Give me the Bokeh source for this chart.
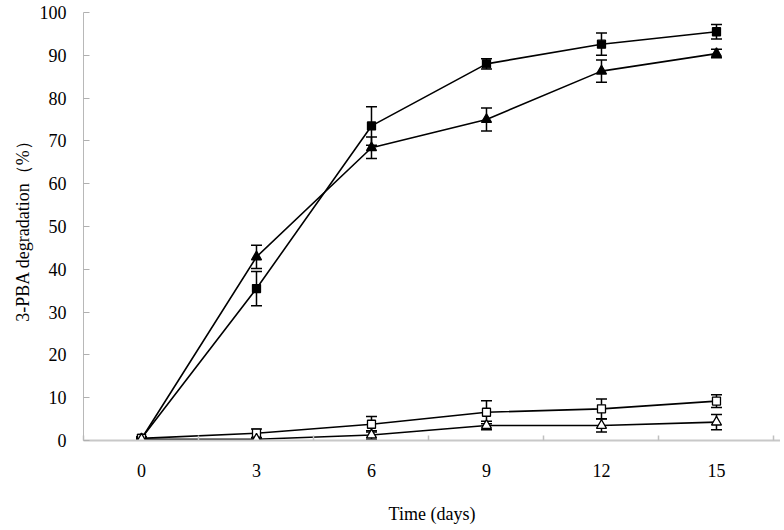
from bokeh.plotting import figure
from bokeh.models import ColumnDataSource, Whisker, TeeHead, FixedTicker, Range1d
from bokeh.embed import file_html
from bokeh.resources import INLINE

days = [0, 3, 6, 9, 12, 15]
sq_filled = [0.5, 35.5, 73.5, 88.0, 92.6, 95.5]
sq_filled_err = [0.3, 4.0, 4.5, 1.2, 2.6, 1.7]
tri_filled = [0.4, 42.9, 68.4, 75.0, 86.3, 90.4]
tri_filled_err = [0.3, 2.7, 2.5, 2.7, 2.6, 1.0]
sq_open = [0.5, 1.7, 3.8, 6.6, 7.4, 9.2]
sq_open_err = [0.3, 1.0, 1.8, 2.7, 2.3, 1.5]
tri_open = [0.3, 0.3, 1.3, 3.5, 3.5, 4.3]
tri_open_err = [0.2, 0.3, 1.0, 1.0, 1.5, 1.8]

y_ticks = [0, 10, 20, 30, 40, 50, 60, 70, 80, 90, 100]
x_bounds = [-1.5, 1.5, 4.5, 7.5, 10.5, 13.5, 16.5]

FONT = "Liberation Serif"

p = figure(width=780, height=526, output_backend="svg", toolbar_location=None,
           x_range=Range1d(-1.513, 16.67), y_range=Range1d(0, 100),
           min_border_left=83, min_border_right=0, min_border_top=12, min_border_bottom=86)
p.outline_line_color = None
p.xgrid.visible = False
p.ygrid.visible = False

series = [
    (sq_filled, sq_filled_err, "square", "black"),
    (tri_filled, tri_filled_err, "triangle", "black"),
    (sq_open, sq_open_err, "square", "white"),
    (tri_open, tri_open_err, "triangle", "white"),
]

for vals, errs, marker, fill in series:
    src = ColumnDataSource(dict(
        x=days, y=vals,
        upper=[v + e for v, e in zip(vals, errs)],
        lower=[v - e for v, e in zip(vals, errs)],
    ))
    p.line("x", "y", source=src, line_color="black", line_width=1.6)
    w = Whisker(source=src, base="x", upper="upper", lower="lower", dimension="height",
                line_color="black", line_width=1.5,
                upper_head=TeeHead(size=11, line_color="black", line_width=1.5),
                lower_head=TeeHead(size=11, line_color="black", line_width=1.5))
    p.add_layout(w)
    size = 8 if marker == "square" else 10
    p.scatter("x", "y", source=src, marker=marker, size=size,
              fill_color=fill, line_color="black", line_width=1.3)

# x axis
xa = p.xaxis[0]
xa.ticker = FixedTicker(ticks=days, minor_ticks=x_bounds)
xa.major_tick_in = 0
xa.major_tick_out = 0
xa.minor_tick_in = 5
xa.minor_tick_out = 0
xa.minor_tick_line_color = "#c0c0c0"
xa.minor_tick_line_width = 1.5
xa.axis_line_color = "#c8c8c8"
xa.axis_line_width = 2
xa.major_label_text_font = FONT
xa.major_label_text_font_size = "18px"
xa.major_label_text_color = "black"
xa.major_label_standoff = 23
xa.axis_label = "Time (days)"
xa.axis_label_text_font = FONT
xa.axis_label_text_font_size = "18px"
xa.axis_label_text_font_style = "normal"
xa.axis_label_text_color = "black"
xa.axis_label_standoff = 24

# y axis
ya = p.yaxis[0]
ya.ticker = FixedTicker(ticks=y_ticks)
ya.major_tick_in = 6
ya.major_tick_out = 0
ya.minor_tick_in = 0
ya.minor_tick_out = 0
ya.major_tick_line_color = "#b0b0b0"
ya.axis_line_color = "#b8b8b8"
ya.axis_line_width = 1
ya.major_label_text_font = FONT
ya.major_label_text_font_size = "18px"
ya.major_label_text_color = "black"
ya.major_label_standoff = 17
ya.axis_label = "3-PBA degradation（%）"
ya.axis_label_text_font = FONT
ya.axis_label_text_font_size = "18px"
ya.axis_label_text_font_style = "normal"
ya.axis_label_text_color = "black"
ya.axis_label_standoff = 4

open("out.html", "w").write(file_html(p, INLINE))
